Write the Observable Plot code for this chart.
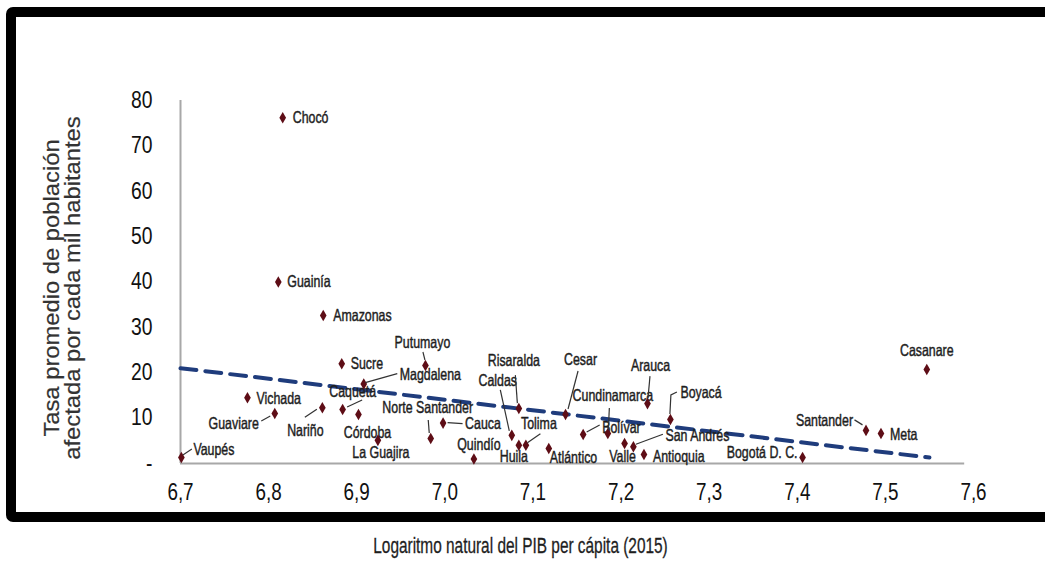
<!DOCTYPE html>
<html>
<head>
<meta charset="utf-8">
<script src="https://cdn.jsdelivr.net/npm/d3@7"></script>
<script src="https://cdn.jsdelivr.net/npm/@observablehq/plot@0.6"></script>
<style>
  html, body { margin: 0; padding: 0; background: #fff; }
  body { width: 1045px; height: 564px; overflow: hidden; position: relative;
         font-family: "Liberation Sans", Arial, sans-serif; }
  #frame { position: absolute; left: 6px; top: 7px; width: 1080px; height: 495px;
           border: 10px solid #000; border-radius: 7px; box-sizing: content-box; }
  #chart { position: absolute; left: 0; top: 0; }
  #ytitle { position: absolute; left: 62px; top: 288px; width: 420px; text-align: center;
            font-family: "Liberation Sans", Arial, sans-serif; font-size: 22px; line-height: 21px;
            color: #333; transform: translate(-50%, -50%) rotate(-90deg) scaleX(1.08); white-space: nowrap;
            -webkit-text-stroke: 0.2px #333; }
  #xtitle { position: absolute; left: 0; top: 533px; width: 1045px; text-align: center;
            font-size: 22px; color: #1e1e1e; transform: translateX(-2px) scaleX(0.70);
            -webkit-text-stroke: 0.3px #1e1e1e; white-space: nowrap; }
</style>
</head>
<body>
<div id="frame"></div>
<div id="chart"></div>
<div id="ytitle">Tasa promedio de población<br>afectada por cada mil habitantes</div>
<div id="xtitle">Logaritmo natural del PIB per cápita (2015)</div>
<script>
// ---- Data ----
const departamentos = ["Chocó","Guainía","Amazonas","Sucre","Putumayo","Magdalena","Caquetá","Córdoba","Nariño","Vichada","Guaviare","Vaupés","La Guajira","Norte Santander","Cauca","Quindío","Risaralda","Caldas","Huila","Tolima","Atlántico","Cesar","Cundinamarca","Bolívar","Arauca","Boyacá","Valle","San Andrés","Antioquia","Bogotá D. C.","Santander","Meta","Casanare"];
const logPib = [6.816,6.811,6.862,6.883,6.978,6.908,6.884,6.902,6.861,6.776,6.807,6.701,6.924,6.984,6.998,7.033,7.084,7.076,7.084,7.092,7.118,7.137,7.185,7.157,7.230,7.256,7.204,7.214,7.226,7.406,7.478,7.495,7.547];
const tasa = [76.2,40.0,32.6,22.0,21.6,17.5,11.9,10.8,12.3,14.5,11.0,1.3,5.1,5.5,8.9,1.0,12.1,6.2,4.0,4.0,3.3,10.8,6.6,6.4,13.2,9.7,4.4,3.7,2.0,1.3,7.3,6.6,20.7];
const tendenciaX = [6.7, 7.55];
const tendenciaY = [21.0, 1.3];
const xTicks = [6.7,6.8,6.9,7.0,7.1,7.2,7.3,7.4,7.5,7.6];
const xTickLabels = ["6,7","6,8","6,9","7,0","7,1","7,2","7,3","7,4","7,5","7,6"];
const yTicks = [0,10,20,30,40,50,60,70,80];
const yTickLabels = ["-","10","20","30","40","50","60","70","80"];

// ---- Label layout (pixel offsets from each point; styling only) ----
const etiquetas = {
  "Chocó": {dx:10, dy:0, a:"start"},
  "Guainía": {dx:9, dy:0, a:"start"},
  "Amazonas": {dx:10, dy:0, a:"start"},
  "Sucre": {dx:9, dy:0, a:"start"},
  "Putumayo": {dx:-3, dy:-23, a:"middle", l:[[-2,-13],[0,-5]]},
  "Magdalena": {dx:36, dy:-9, a:"start", l:[[2,-1],[34,-10]]},
  "Caquetá": {dx:10, dy:-18, a:"middle", l:[[5,-2],[20,-9]]},
  "Córdoba": {dx:9, dy:18, a:"middle"},
  "Nariño": {dx:-17, dy:23, a:"middle", l:[[-5,2],[-17,10]]},
  "Vichada": {dx:9, dy:1, a:"start"},
  "Guaviare": {dx:-16, dy:10, a:"end", l:[[-4,3],[-13,8]]},
  "Vaupés": {dx:12, dy:-8, a:"start", l:[[2,-2],[11,-8]]},
  "La Guajira": {dx:3, dy:12, a:"middle"},
  "Norte Santander": {dx:-3, dy:-31, a:"middle", l:[[-2,-18],[-1,-5]]},
  "Cauca": {dx:22, dy:1, a:"start", l:[[5,0],[20,1]]},
  "Quindío": {dx:5, dy:-14, a:"middle"},
  "Risaralda": {dx:-5, dy:-48, a:"middle", l:[[-3,-33],[-1,-5]]},
  "Caldas": {dx:-14, dy:-55, a:"middle", l:[[-11,-45],[-2,-4]]},
  "Huila": {dx:-5, dy:11, a:"middle"},
  "Tolima": {dx:13, dy:-22, a:"middle", l:[[2,-2],[15,-11]]},
  "Atlántico": {dx:1, dy:9, a:"start"},
  "Cesar": {dx:15, dy:-55, a:"middle", l:[[3,-5],[13,-43]]},
  "Cundinamarca": {dx:5, dy:-38, a:"middle", l:[[1,-3],[2,-25]]},
  "Bolívar": {dx:19, dy:-7, a:"start", l:[[4,-2],[17,-9]]},
  "Arauca": {dx:3, dy:-38, a:"middle", l:[[1,-5],[3,-27]]},
  "Boyacá": {dx:10, dy:-27, a:"start", l:[[0,-5],[1,-24],[7,-27]]},
  "Valle": {dx:-2, dy:13, a:"middle"},
  "San Andrés": {dx:32, dy:-11, a:"start", l:[[3,-2],[30,-12]]},
  "Antioquia": {dx:9, dy:2, a:"start"},
  "Bogotá D. C.": {dx:-5, dy:-5, a:"end"},
  "Santander": {dx:-13, dy:-10, a:"end", l:[[-11,-10],[-3,-5]]},
  "Meta": {dx:9, dy:1, a:"start"},
  "Casanare": {dx:0, dy:-19, a:"middle"}
};

const puntos = departamentos.map((n, i) => ({nombre: n, x: logPib[i], y: tasa[i]}));
const tendencia = tendenciaX.map((x, i) => ({x, y: tendenciaY[i]}));
const xFmt = new Map(xTicks.map((t, i) => [t, xTickLabels[i]]));
const yFmt = new Map(yTicks.map((t, i) => [t, yTickLabels[i]]));

const textMarks = puntos.map(p => {
  const e = etiquetas[p.nombre];
  return Plot.text([p], {x: "x", y: "y", text: "nombre", dx: e.dx, dy: e.dy, textAnchor: e.a,
    fontSize: 16.5, fill: "#1e1e1e", stroke: "#1e1e1e", strokeWidth: 0.45});
});

const chart = Plot.plot({
  width: 1045,
  height: 520,
  marginLeft: 180,
  marginRight: 72,
  marginTop: 100,
  marginBottom: 57,
  style: {background: "transparent", fontFamily: '"Liberation Sans", Arial, sans-serif'},
  x: {domain: [6.7, 7.6]},
  y: {domain: [0, 80]},
  marks: [
    Plot.ruleX([6.7], {y1: 0, y2: 80, stroke: "#a8a8a8", strokeWidth: 2}),
    Plot.ruleY([0], {x1: 6.7, x2: 7.59, stroke: "#a8a8a8", strokeWidth: 2}),
    Plot.axisX({ticks: xTicks, tickFormat: d => xFmt.get(d), tickSize: 0, tickPadding: 20, fontSize: 23, fill: "#111", stroke: "#111", strokeWidth: 0.55, label: null}),
    Plot.axisY({ticks: yTicks, tickFormat: d => yFmt.get(d), tickSize: 0, tickPadding: 28, fontSize: 23, fill: "#111", stroke: "#111", strokeWidth: 0.55, label: null}),
    Plot.line(tendencia, {x: "x", y: "y", stroke: "#1f3c7c", strokeWidth: 4, strokeDasharray: "16,9"}),
    ...textMarks,
    Plot.dot(puntos, {x: "x", y: "y", symbol: "diamond", r: 3.5, fill: "#5e0d16", stroke: "none"})
  ]
});
document.getElementById("chart").appendChild(chart);

// condense horizontal text around its anchor point
function condense(sel, s) {
  chart.querySelectorAll(sel).forEach(t => {
    const x = parseFloat(t.getAttribute("x")) || 0;
    const tr = t.getAttribute("transform") || "";
    t.setAttribute("transform", `${tr} translate(${x},0) scale(${s},1) translate(${-x},0)`);
  });
}
condense('g[aria-label="x-axis tick label"] text', 0.82);
condense('g[aria-label="y-axis tick label"] text', 0.84);
condense('g[aria-label="text"] text', 0.75);

// leader lines, positioned through the plot's own scales
const sx = chart.scale("x"), sy = chart.scale("y");
const g = d3.select(chart).append("g").attr("stroke", "#333").attr("stroke-width", 1.2).attr("fill", "none");
puntos.forEach(p => {
  const e = etiquetas[p.nombre];
  if (!e.l) return;
  const px = sx.apply(p.x), py = sy.apply(p.y);
  g.append("polyline").attr("points", e.l.map(([a, b]) => `${px + a},${py + b}`).join(" "));
});
</script>
</body>
</html>
